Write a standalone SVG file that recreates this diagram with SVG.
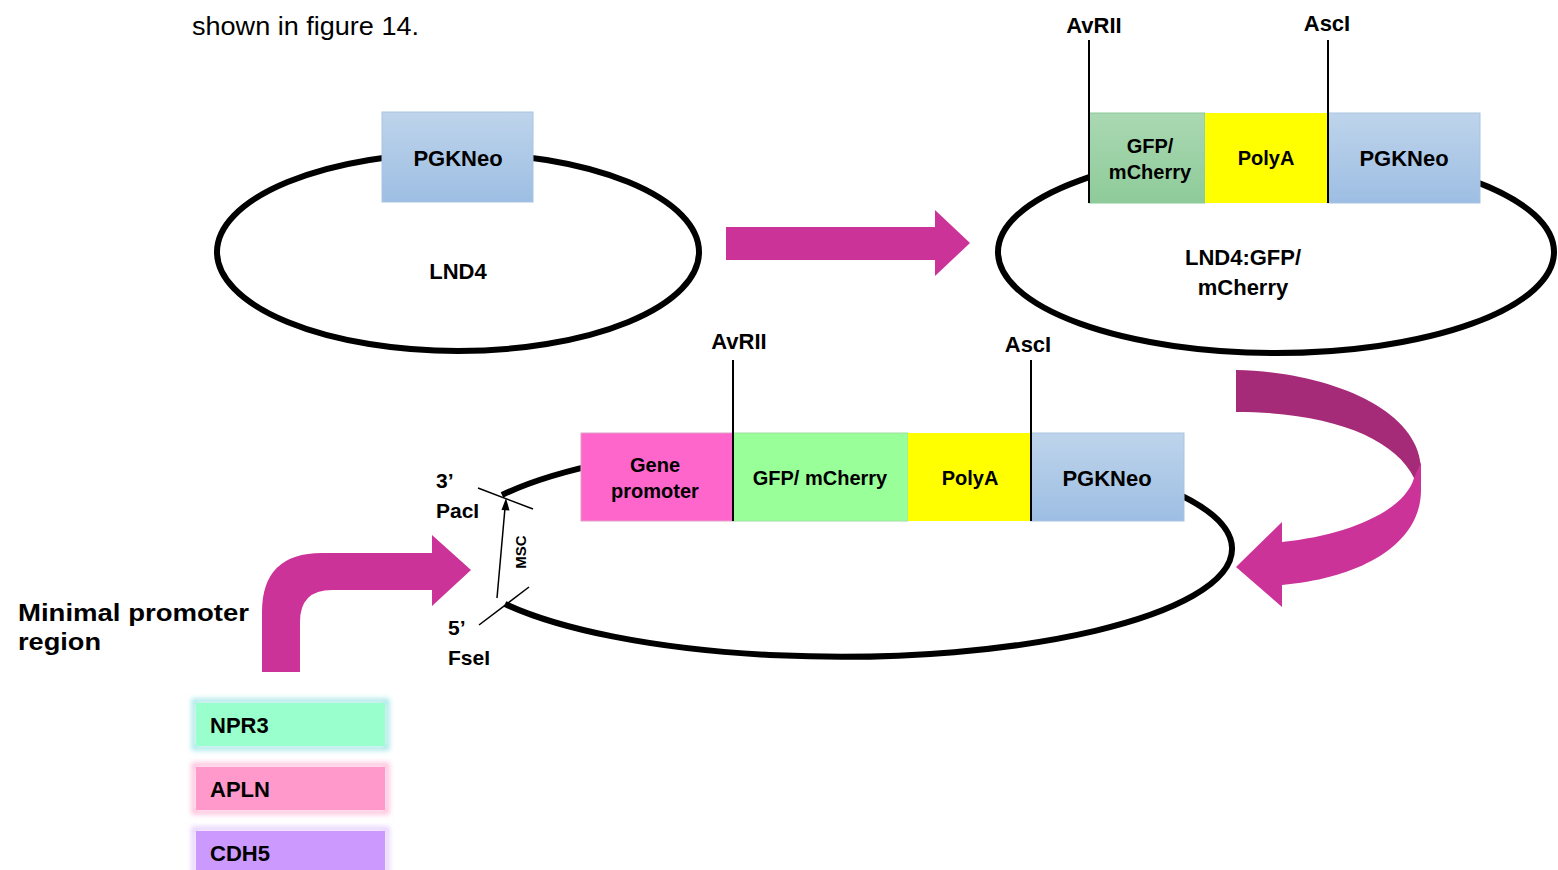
<svg xmlns="http://www.w3.org/2000/svg" width="1558" height="870" viewBox="0 0 1558 870">
<defs>
<linearGradient id="gBlue" x1="0" y1="0" x2="0" y2="1"><stop offset="0" stop-color="#BED4EB"/><stop offset="1" stop-color="#9DBEE3"/></linearGradient>
<linearGradient id="gGreen" x1="0" y1="0" x2="0" y2="1"><stop offset="0" stop-color="#AAD8B2"/><stop offset="1" stop-color="#8ECB99"/></linearGradient>
<filter id="glow" x="-20%" y="-40%" width="140%" height="180%"><feGaussianBlur stdDeviation="2.5"/></filter>
<style>
.t{font-family:"Liberation Sans",Arial,sans-serif;font-weight:bold;fill:#000;}
.c{text-anchor:middle;dominant-baseline:central;}
.ring{fill:none;stroke:#000;stroke-width:6;}
.box{stroke:#A9C3E0;stroke-width:1;}
.site{stroke:#000;stroke-width:2;fill:none;}
.mag{fill:#CC3399;}
</style>
</defs>
<rect width="1558" height="870" fill="#fff"/>
<text x="192" y="35" font-family="'Liberation Sans',Arial,sans-serif" font-size="25" fill="#000" textLength="227" lengthAdjust="spacingAndGlyphs">shown in figure 14.</text>

<g id="plasmid-lnd4">
<ellipse class="ring" cx="458" cy="252" rx="241" ry="99"/>
<rect class="box" x="382" y="112" width="151" height="90" fill="url(#gBlue)"/>
<text class="t c" x="458" y="158" font-size="22">PGKNeo</text>
<text class="t c" x="458" y="271" font-size="22">LND4</text>
</g>

<g id="plasmid-lnd4-gfp">
<ellipse class="ring" cx="1276" cy="252" rx="278" ry="101"/>
<rect x="1089" y="113" width="116" height="90" fill="url(#gGreen)" stroke="#8CC99A" stroke-width="1"/>
<rect x="1205" y="113" width="123" height="90" fill="#FFFF00"/>
<rect class="box" x="1328" y="113" width="152" height="90" fill="url(#gBlue)"/>
<text class="t c" x="1150" y="146" font-size="20">GFP/</text>
<text class="t c" x="1150" y="172" font-size="20">mCherry</text>
<text class="t c" x="1266" y="158" font-size="20">PolyA</text>
<text class="t c" x="1404" y="158" font-size="22">PGKNeo</text>
<text class="t c" x="1243" y="257" font-size="22">LND4:GFP/</text>
<text class="t c" x="1243" y="287" font-size="22">mCherry</text>
<line class="site" x1="1089" y1="40" x2="1089" y2="203"/>
<line class="site" x1="1328" y1="40" x2="1328" y2="203"/>
<text class="t c" x="1094" y="25" font-size="22">AvRII</text>
<text class="t c" x="1327" y="23" font-size="22">AscI</text>
</g>

<g id="plasmid-final">
<path class="ring" d="M502,495 A391,108 0 1 1 505,604"/>
<rect x="581" y="433" width="152" height="88" fill="#FF66CC" stroke="#E0A0C8" stroke-width="1"/>
<rect x="733" y="433" width="175" height="88" fill="#99FF99" stroke="#A0E0A0" stroke-width="1"/>
<rect x="908" y="433" width="123" height="88" fill="#FFFF00"/>
<rect class="box" x="1031" y="433" width="153" height="88" fill="url(#gBlue)"/>
<text class="t c" x="655" y="465" font-size="20">Gene</text>
<text class="t c" x="655" y="491" font-size="20">promoter</text>
<text class="t c" x="820" y="478" font-size="20">GFP/ mCherry</text>
<text class="t c" x="970" y="478" font-size="20">PolyA</text>
<text class="t c" x="1107" y="478" font-size="22">PGKNeo</text>
<line class="site" x1="733" y1="360" x2="733" y2="521"/>
<line class="site" x1="1031" y1="360" x2="1031" y2="521"/>
<text class="t c" x="739" y="341" font-size="22">AvRII</text>
<text class="t c" x="1028" y="344" font-size="22">AscI</text>
<line x1="478" y1="488" x2="533" y2="509" stroke="#000" stroke-width="1.5"/>
<line x1="479" y1="625" x2="529" y2="587" stroke="#000" stroke-width="1.5"/>
<text class="t" x="436" y="488" font-size="21">3’</text>
<text class="t" x="436" y="518" font-size="21">PacI</text>
<text class="t" x="448" y="635" font-size="21">5’</text>
<text class="t" x="448" y="665" font-size="21">FseI</text>
<text class="t c" x="0" y="0" font-size="15" transform="translate(520,552) rotate(-90)">MSC</text>
</g>

<g id="label-minimal">
<text class="t" x="18" y="621" font-size="24" textLength="231" lengthAdjust="spacingAndGlyphs">Minimal promoter</text>
<text class="t" x="18" y="650" font-size="24" textLength="83" lengthAdjust="spacingAndGlyphs">region</text>
</g>

<g id="gene-npr3">
<rect x="194" y="701" width="193" height="47" fill="none" stroke="#A8E8E8" stroke-width="5" filter="url(#glow)"/>
<rect x="196" y="703" width="189" height="43" fill="#99FFCC"/>
<text class="t" x="210" y="733" font-size="22">NPR3</text>
</g>
<g id="gene-apln">
<rect x="194" y="765" width="193" height="47" fill="none" stroke="#FFC0DC" stroke-width="5" filter="url(#glow)"/>
<rect x="196" y="767" width="189" height="43" fill="#FF99CC"/>
<text class="t" x="210" y="797" font-size="22">APLN</text>
</g>
<g id="gene-cdh5">
<rect x="194" y="829" width="193" height="47" fill="none" stroke="#E6D0FF" stroke-width="5" filter="url(#glow)"/>
<rect x="196" y="831" width="189" height="43" fill="#CC99FF"/>
<text class="t" x="210" y="861" font-size="22">CDH5</text>
</g>

<g id="connectors">
<path class="mag" d="M726,227 L935,227 L935,210 L970,243 L935,276 L935,260 L726,260 Z"/>
<path fill="#A52A77" d="M1236,370 C1330,372 1421,410 1421,470 L1421,478 L1414,478 C1395,438 1330,412 1236,412 Z"/>
<path class="mag" d="M1414,478 L1421,462 L1421,490 C1421,545 1360,578 1282,585 L1282,607 L1236,567 L1282,522 L1282,542 C1350,535 1405,510 1414,478 Z"/>
<path class="mag" d="M262,672 L262,612 Q262,553 322,553 L432,553 L432,535 L471,570 L432,606 L432,590 L332,590 Q300,590 300,622 L300,672 Z"/>
<line x1="497" y1="598" x2="505" y2="508" stroke="#000" stroke-width="1.5"/>
<path d="M506,498 L501.5,510 L509.5,510.5 Z" fill="#000"/>
</g>
</svg>
